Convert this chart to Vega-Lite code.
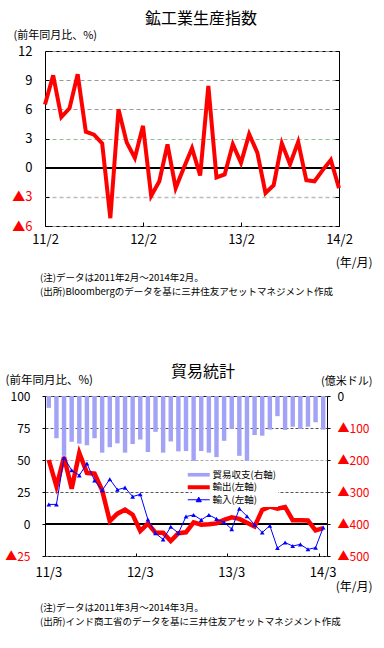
{
  "$schema": "https://vega.github.io/schema/vega-lite/v6.json",
  "padding": {"left": 4, "top": 10, "right": 5, "bottom": 5},
  "spacing": 46,
  "bounds": "flush",
  "resolve": {"scale": {"color": "independent"}, "legend": {"color": "independent"}},
  "config": {
    "font": "Noto Sans CJK JP",
    "view": {"stroke": "#000000", "strokeWidth": 1},
    "axis": {"labelFont": "Noto Sans CJK JP", "titleFont": "Noto Sans CJK JP", "labelColor": "#000000", "titleColor": "#000000", "titleFontWeight": "normal", "tickColor": "#000000", "domain": false},
    "title": {"font": "Noto Sans CJK JP", "fontWeight": "normal", "fontSize": 16, "color": "#000000"},
    "legend": {"labelFont": "Noto Sans CJK JP", "labelColor": "#000000"}
  },
  "vconcat": [
    {
      "width": 294,
      "height": 175,
      "title": {"text": "鉱工業生産指数", "frame": "group", "anchor": "middle", "dx": 9, "offset": 2},
      "data": {"values": [
        {"month": "2011-02", "ip": 6.5}, {"month": "2011-03", "ip": 9.5}, {"month": "2011-04", "ip": 5.2},
        {"month": "2011-05", "ip": 6.1}, {"month": "2011-06", "ip": 9.6}, {"month": "2011-07", "ip": 3.7},
        {"month": "2011-08", "ip": 3.4}, {"month": "2011-09", "ip": 2.5}, {"month": "2011-10", "ip": -5.2},
        {"month": "2011-11", "ip": 6.0}, {"month": "2011-12", "ip": 2.6}, {"month": "2012-01", "ip": 1.0},
        {"month": "2012-02", "ip": 4.3}, {"month": "2012-03", "ip": -2.9}, {"month": "2012-04", "ip": -1.4},
        {"month": "2012-05", "ip": 2.4}, {"month": "2012-06", "ip": -2.1}, {"month": "2012-07", "ip": 0.0},
        {"month": "2012-08", "ip": 2.0}, {"month": "2012-09", "ip": -0.8}, {"month": "2012-10", "ip": 8.4},
        {"month": "2012-11", "ip": -1.0}, {"month": "2012-12", "ip": -0.7}, {"month": "2013-01", "ip": 2.4},
        {"month": "2013-02", "ip": 0.5}, {"month": "2013-03", "ip": 3.45}, {"month": "2013-04", "ip": 1.55},
        {"month": "2013-05", "ip": -2.6}, {"month": "2013-06", "ip": -1.8}, {"month": "2013-07", "ip": 2.5},
        {"month": "2013-08", "ip": 0.35}, {"month": "2013-09", "ip": 2.65}, {"month": "2013-10", "ip": -1.3},
        {"month": "2013-11", "ip": -1.4}, {"month": "2013-12", "ip": -0.25}, {"month": "2014-01", "ip": 0.8},
        {"month": "2014-02", "ip": -2.1}
      ]},
      "layer": [
        {
          "mark": {"type": "rule", "color": "#000000", "strokeWidth": 1},
          "encoding": {
            "y": {"datum": 0, "type": "quantitative", "scale": {"domain": [-6, 12], "nice": false, "zero": false},
              "axis": {"orient": "right", "values": [-6, -3, 0, 3, 6, 9, 12], "labels": false, "grid": false, "tickSize": -4, "title": null}}
          }
        },
        {
          "mark": {"type": "line", "color": "#ff0000", "strokeWidth": 4},
          "encoding": {
            "x": {"field": "month", "type": "ordinal", "scale": {"type": "point", "padding": 0},
              "axis": {"values": ["2011-02", "2012-02", "2013-02", "2014-02"],
                "labelExpr": "substring(datum.value,2,4) + '/' + toNumber(substring(datum.value,5,7))",
                "labelAngle": 0, "labelFontSize": 13, "tickSize": -4, "labelPadding": 11, "grid": false,
                "title": "(年/月)", "titleFontSize": 12, "titleAlign": "right", "titleBaseline": "bottom", "titleX": 327, "titleY": 43}},
            "y": {"field": "ip", "type": "quantitative",
              "axis": {"orient": "left", "values": [-6, -3, 0, 3, 6, 9, 12],
                "labelExpr": "datum.value < 0 ? '▲' + (-datum.value) : '' + datum.value",
                "labelColor": {"condition": {"test": "datum.value < 0", "value": "#ff0000"}, "value": "#000000"},
                "labelFontSize": 13, "tickSize": -4, "labelPadding": 17,
                "grid": true, "gridDash": [4, 3],
                "gridColor": {"condition": [{"test": "datum.value == 3", "value": "#8fbf8f"}, {"test": "datum.value == -3", "value": "#bbbbbb"}], "value": "#999999"},
                "gridWidth": {"condition": {"test": "datum.value == -3", "value": 1.5}, "value": 1},
                "title": "(前年同月比、%)", "titleFontSize": 11, "titleAngle": 0, "titleAlign": "left", "titleBaseline": "bottom", "titleX": -32, "titleY": -11}}
          }
        }
      ],
      "resolve": {"axis": {"y": "independent"}}
    },
    {
      "width": 294,
      "height": 78,
      "view": {"stroke": null},
      "data": {"values": [
        {"line": 1, "text": "(注)データは2011年2月～2014年2月。"},
        {"line": 2, "text": "(出所)Bloombergのデータを基に三井住友アセットマネジメント作成"}
      ]},
      "mark": {"type": "text", "align": "left", "baseline": "middle", "fontSize": 9.5, "dx": -5, "color": "#000000"},
      "encoding": {
        "x": {"datum": 0, "type": "quantitative", "scale": {"domain": [0, 1]}, "axis": null},
        "y": {"field": "line", "type": "quantitative", "scale": {"domain": [0.571, 6.143], "reverse": true, "nice": false, "zero": false}, "axis": null},
        "text": {"field": "text"}
      }
    },
    {
      "width": 282,
      "height": 160,
      "title": {"text": "貿易統計", "frame": "group", "anchor": "middle", "dx": 17, "dy": 8, "offset": 2},
      "data": {"values": [
        {"month": "2011-03", "balance": -37, "export": 50, "import": 15.3},
        {"month": "2011-04", "balance": -132, "export": 29.4, "import": 15.3},
        {"month": "2011-05", "balance": -187, "export": 52.3, "import": 51.8},
        {"month": "2011-06", "balance": -143, "export": 27.6, "import": 42},
        {"month": "2011-07", "balance": -149, "export": 55.5, "import": 38},
        {"month": "2011-08", "balance": -154, "export": 40, "import": 47.2},
        {"month": "2011-09", "balance": -132, "export": 39.3, "import": 34},
        {"month": "2011-10", "balance": -177, "export": 26.3, "import": 26.3},
        {"month": "2011-11", "balance": -160, "export": 2.3, "import": 35},
        {"month": "2011-12", "balance": -148, "export": 8.1, "import": 26.8},
        {"month": "2012-01", "balance": -177, "export": 11.2, "import": 28.4},
        {"month": "2012-02", "balance": -150, "export": 7.3, "import": 21.4},
        {"month": "2012-03", "balance": -136, "export": -5.5, "import": 23.2},
        {"month": "2012-04", "balance": -175, "export": 0.3, "import": 3.5},
        {"month": "2012-05", "balance": -112, "export": -6.8, "import": -7.3},
        {"month": "2012-06", "balance": -177, "export": -6.8, "import": -12},
        {"month": "2012-07", "balance": -142, "export": -13.3, "import": -2.2},
        {"month": "2012-08", "balance": -173, "export": -7.2, "import": -7.1},
        {"month": "2012-09", "balance": -172, "export": -6.5, "import": 5.8},
        {"month": "2012-10", "balance": -203, "export": 1.3, "import": 7.1},
        {"month": "2012-11", "balance": -172, "export": -0.6, "import": 3.2},
        {"month": "2012-12", "balance": -177, "export": -0.2, "import": 7.1},
        {"month": "2013-01", "balance": -191, "export": 0.5, "import": 4.0},
        {"month": "2013-02", "balance": -140, "export": 3.2, "import": 1.4},
        {"month": "2013-03", "balance": -103, "export": 5.2, "import": -4.0},
        {"month": "2013-04", "balance": -187, "export": 4.0, "import": 12},
        {"month": "2013-05", "balance": -203, "export": 1.0, "import": 6.1},
        {"month": "2013-06", "balance": -122, "export": -2.0, "import": -0.5},
        {"month": "2013-07", "balance": -124, "export": 11.0, "import": -6.7},
        {"month": "2013-08", "balance": -105, "export": 13.6, "import": -1.3},
        {"month": "2013-09", "balance": -63, "export": 12.0, "import": -18.8},
        {"month": "2013-10", "balance": -106, "export": 13.3, "import": -14.5},
        {"month": "2013-11", "balance": -96, "export": 3.0, "import": -17.2},
        {"month": "2013-12", "balance": -103, "export": 3.0, "import": -15.9},
        {"month": "2014-01", "balance": -96, "export": 2.7, "import": -19.8},
        {"month": "2014-02", "balance": -82, "export": -5.0, "import": -18.5},
        {"month": "2014-03", "balance": -105, "export": -3.2, "import": -2.8}
      ]},
      "layer": [
        {
          "mark": {"type": "bar", "width": {"band": 0.58}},
          "encoding": {
            "x": {"field": "month", "type": "ordinal", "scale": {"type": "band", "paddingInner": 0, "paddingOuter": 0},
              "axis": {"values": ["2011-03", "2012-03", "2013-03", "2014-03"],
                "labelExpr": "substring(datum.value,2,4) + '/' + toNumber(substring(datum.value,5,7))",
                "labelAngle": 0, "bandPosition": 0, "labelFontSize": 13, "tickSize": -3, "labelPadding": 13, "grid": false,
                "title": "(年/月)", "titleFontSize": 12, "titleAlign": "right", "titleBaseline": "bottom", "titleX": 327, "titleY": 37}},
            "y": {"field": "balance", "type": "quantitative", "scale": {"domain": [-500, 0], "nice": false},
              "axis": {"orient": "right", "values": [0, -100, -200, -300, -400, -500],
                "labelExpr": "datum.value < 0 ? '▲' + (-datum.value) : '' + datum.value",
                "labelColor": {"condition": {"test": "datum.value < 0", "value": "#ff0000"}, "value": "#000000"},
                "labelFontSize": 12, "tickSize": 3, "labelPadding": 7, "grid": false,
                "title": "(億米ドル)", "titleFontSize": 11, "titleAngle": 0, "titleAlign": "right", "titleBaseline": "bottom", "titleX": 45, "titleY": -10}},
            "color": {"datum": "貿易収支(右軸)",
              "scale": {"domain": ["貿易収支(右軸)", "輸出(左軸)", "輸入(左軸)"], "range": ["#a2a2f6", "#ff0000", "#0000ff"]},
              "legend": {"orient": "none", "legendX": 147, "legendY": 72, "title": null, "fillColor": "#ffffff", "padding": 2,
                "labelFontSize": 9.5, "labelOffset": 9, "symbolSize": 64, "rowPadding": 1.5, "labelLimit": 200,
                "encode": {"symbols": {"update": {
                  "shape": {"signal": "datum.value === '貿易収支(右軸)' ? 'M-2.75,-0.45H2.75V0.45H-2.75Z' : datum.value === '輸出(左軸)' ? 'M-2.75,-0.5H2.75V0.5H-2.75Z' : 'M-2.75,0H2.75M0,-0.65L0.65,0.5H-0.65Z'"},
                  "fill": {"signal": "datum.value === '貿易収支(右軸)' ? '#a2a2f6' : datum.value === '輸出(左軸)' ? '#ff0000' : '#0000ff'"},
                  "stroke": {"signal": "datum.value === '貿易収支(右軸)' ? '#a2a2f6' : datum.value === '輸出(左軸)' ? '#ff0000' : '#0000ff'"},
                  "strokeWidth": {"signal": "datum.value === '輸入(左軸)' ? 1 : 0"},
                  "opacity": {"value": 1}, "fillOpacity": {"value": 1}, "strokeOpacity": {"value": 1}
                }}}}}
          }
        },
        {
          "mark": {"type": "rule", "color": "#000000", "strokeWidth": 1},
          "encoding": {
            "y": {"datum": 0, "type": "quantitative", "scale": {"domain": [-25, 100], "nice": false, "zero": false}, "axis": null}
          }
        },
        {
          "mark": {"type": "line", "strokeWidth": 4.5},
          "encoding": {
            "x": {"field": "month", "type": "ordinal"},
            "y": {"field": "export", "type": "quantitative", "scale": {"domain": [-25, 100], "nice": false, "zero": false},
              "axis": {"orient": "left", "values": [-25, 0, 25, 50, 75, 100],
                "labelExpr": "datum.value < 0 ? '▲' + (-datum.value) : '' + datum.value",
                "labelColor": {"condition": {"test": "datum.value < 0", "value": "#ff0000"}, "value": "#000000"},
                "labelFontSize": 12, "tickSize": 3, "labelPadding": 12,
                "grid": true, "gridDash": [3, 2],
                "gridColor": {"condition": {"test": "datum.value == 50", "value": "#aaaaaa"}, "value": "#555555"},
                "title": "(前年同月比、%)", "titleFontSize": 11.5, "titleAngle": 0, "titleAlign": "left", "titleBaseline": "bottom", "titleX": -40, "titleY": -11}},
            "color": {"datum": "輸出(左軸)"}
          }
        },
        {
          "mark": {"type": "line", "strokeWidth": 1},
          "encoding": {
            "x": {"field": "month", "type": "ordinal"},
            "y": {"field": "import", "type": "quantitative", "scale": {"domain": [-25, 100], "nice": false, "zero": false}, "axis": null},
            "color": {"datum": "輸入(左軸)"}
          }
        },
        {
          "mark": {"type": "point", "shape": "triangle-up", "filled": true, "size": 22, "opacity": 1},
          "encoding": {
            "x": {"field": "month", "type": "ordinal"},
            "y": {"field": "import", "type": "quantitative", "scale": {"domain": [-25, 100], "nice": false, "zero": false}, "axis": null},
            "color": {"datum": "輸入(左軸)"}
          }
        }
      ],
      "resolve": {"scale": {"y": "independent"}}
    },
    {
      "width": 282,
      "height": 30,
      "view": {"stroke": null},
      "data": {"values": [
        {"line": 1, "text": "(注)データは2011年3月～2014年3月。"},
        {"line": 2, "text": "(出所)インド商工省のデータを基に三井住友アセットマネジメント作成"}
      ]},
      "mark": {"type": "text", "align": "left", "baseline": "middle", "fontSize": 9.5, "dx": -5, "color": "#000000"},
      "encoding": {
        "x": {"datum": 0, "type": "quantitative", "scale": {"domain": [0, 1]}, "axis": null},
        "y": {"field": "line", "type": "quantitative", "scale": {"domain": [0.571, 2.714], "reverse": true, "nice": false, "zero": false}, "axis": null},
        "text": {"field": "text"}
      }
    }
  ]
}
